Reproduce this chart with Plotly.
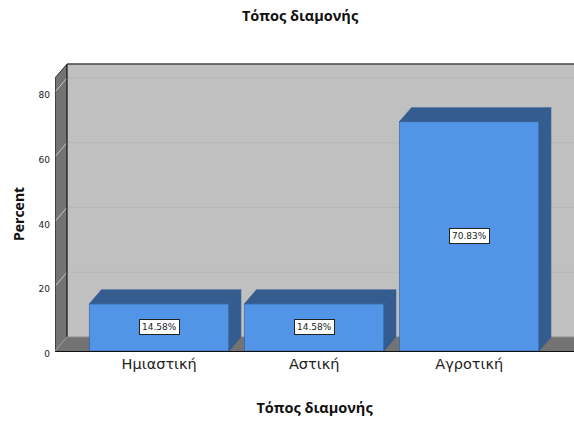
import plotly.graph_objects as go

categories = ["Ημιαστική", "Αστική", "Αγροτική"]
values = [14.58, 14.58, 70.83]
labels = ["14.58%", "14.58%", "70.83%"]
y_ticks = [0, 20, 40, 60, 80]
title_text = "Τόπος διαμονής"
y_title = "Percent"

W, H = 574, 421
ML, MR, MT, MB = 55, 0, 60, 70
X_MIN, X_MAX = -0.672, 2.676
Y_MIN, Y_MAX = 0, 89.85
DX, DY = 0.0774, 4.31      # oblique depth of the pseudo-3D in data units
BAR_W = 0.9
WALL_TOP = 84.3

FRONT = "#5294E5"
DARK = "#345C8F"
WALL = "#C0C0C0"
SIDE = "#737373"
FONT = "DejaVu Sans"
BOLD = "Open Sans"

x = list(range(len(categories)))
fig = go.Figure()

shapes = []
def poly(xs, ys, fill, line=None, width=0):
    path = "M " + " L ".join(f"{a},{b}" for a, b in zip(xs, ys)) + " Z"
    shapes.append(dict(type="path", path=path, xref="x", yref="y", fillcolor=fill,
                       line=dict(color=line or fill, width=width), layer="below"))
def seg(x0, y0, x1, y1, color, width=1):
    shapes.append(dict(type="line", x0=x0, y0=y0, x1=x1, y1=y1, xref="x", yref="y",
                       line=dict(color=color, width=width), layer="below"))

bx = X_MIN + DX
# back wall, left wall, floor
poly([bx, X_MAX, X_MAX, bx], [DY, DY, WALL_TOP + DY, WALL_TOP + DY], WALL)
poly([X_MIN, bx, bx, X_MIN], [0, DY, WALL_TOP + DY, WALL_TOP], SIDE)
poly([X_MIN, X_MAX, X_MAX, bx], [0, 0, DY, DY], SIDE)
# grid lines on both walls
for t in y_ticks[1:]:
    seg(bx, t + DY, X_MAX, t + DY, "#B6B6B6", 1)
    seg(X_MIN, t, bx, t + DY, "#C8C8C8", 1)
# frame
seg(bx, DY, bx, WALL_TOP + DY, "#111111", 1.2)
seg(bx, WALL_TOP + DY, X_MAX, WALL_TOP + DY, "#444444", 1.5)
seg(X_MIN, WALL_TOP, bx, WALL_TOP + DY, "#333333", 1)
seg(bx, DY, X_MAX, DY, "#8C8C8C", 1)
seg(X_MIN, 0, X_MIN, WALL_TOP, "#222222", 1.2)
seg(X_MIN, 0, bx, DY, "#999999", 1)

# front faces
fig.add_trace(go.Bar(x=x, y=values, width=BAR_W, marker=dict(color=FRONT, line=dict(color="#2F5C96", width=0.6)),
                     showlegend=False, hoverinfo="skip"))

# top and side faces of each bar, derived from the values
for xc, v in zip(x, values):
    l, r = xc - BAR_W / 2, xc + BAR_W / 2
    fig.add_trace(go.Scatter(x=[l, r, r + DX, l + DX, l], y=[v, v, v + DY, v + DY, v], mode="lines",
                             fill="toself", fillcolor=DARK, line=dict(color="#2F5C96", width=0.6),
                             showlegend=False, hoverinfo="skip"))
    fig.add_trace(go.Scatter(x=[r, r + DX, r + DX, r, r], y=[0, DY, v + DY, v, 0], mode="lines",
                             fill="toself", fillcolor=DARK, line=dict(color="#2F5C96", width=0.6),
                             showlegend=False, hoverinfo="skip"))

annotations = [
    dict(x=xc, y=v / 2, xref="x", yref="y", text=t, showarrow=False, bgcolor="white",
         bordercolor="#222222", borderwidth=1, borderpad=2,
         font=dict(family=FONT, size=9, color="#222222"))
    for xc, v, t in zip(x, values, labels)
]
annotations.append(dict(xref="paper", yref="paper", x=(18 - ML) / (W - ML - MR), y=(351 - 214) / (H - MT - MB),
                        xanchor="center", yanchor="middle",
                        text=f"<b>{y_title}</b>", textangle=-90, showarrow=False,
                        font=dict(family=BOLD, size=14, color="#111111")))

fig.update_layout(
    width=W, height=H, margin=dict(l=ML, r=MR, t=MT, b=MB, autoexpand=False),
    paper_bgcolor="white", plot_bgcolor="white",
    font=dict(family=FONT, color="#222222"),
    title=dict(text=f"<b>{title_text}</b>", x=300 / W, xanchor="center", y=1 - 16 / H, yanchor="middle",
               font=dict(family=BOLD, size=14.5, color="#111111")),
    shapes=shapes, annotations=annotations, bargap=0.1,
    xaxis=dict(range=[X_MIN, X_MAX], tickmode="array", tickvals=x, ticktext=categories, showgrid=False,
               zeroline=False, showline=True, linecolor="#111111", linewidth=1, ticks="",
               tickfont=dict(family=FONT, size=14.5, color="#222222"),
               title=dict(text=f"<b>{title_text}</b>", standoff=31, font=dict(family=BOLD, size=14.5, color="#111111"))),
    yaxis=dict(range=[Y_MIN, Y_MAX], tickmode="array", tickvals=y_ticks, showgrid=False, zeroline=False,
               ticks="", showline=False, ticklabelstandoff=4, ticklabelshift=3,
               tickfont=dict(family=FONT, size=9, color="#222222")),
)

fig.write_html("out.html", post_script="document.body.style.margin='0';", config=dict(displayModeBar=False))
